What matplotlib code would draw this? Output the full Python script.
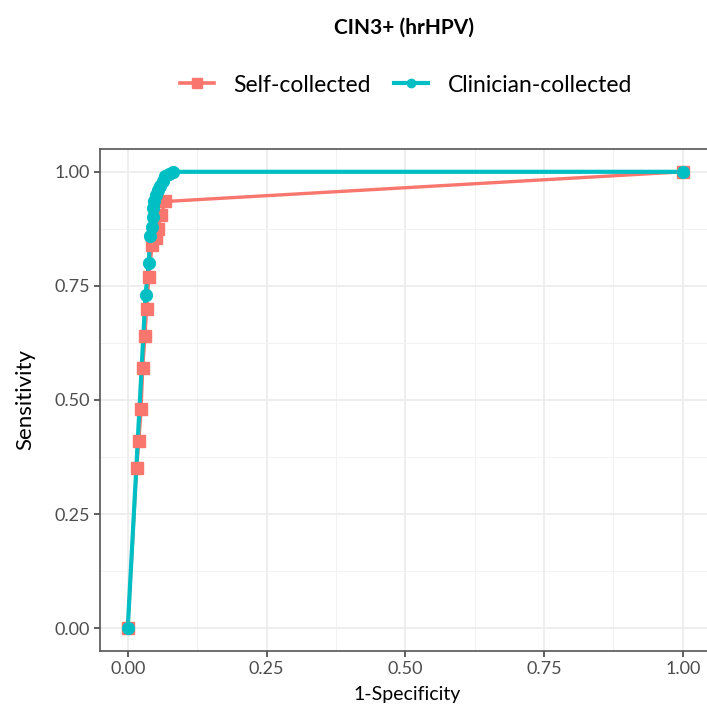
import matplotlib
matplotlib.use("Agg")
import matplotlib.pyplot as plt
from matplotlib.ticker import MultipleLocator

plt.rcParams.update({
    'font.family': ['Lato', 'DejaVu Sans'],
    'font.size': 12,
})

# ROC points
self_fpr = [0.0, 0.016, 0.020, 0.024, 0.027, 0.031, 0.034, 0.038, 0.044, 0.050,
            0.054, 0.060, 0.068, 1.0]
self_tpr = [0.0, 0.35, 0.41, 0.48, 0.57, 0.64, 0.70, 0.77, 0.84, 0.855,
            0.875, 0.905, 0.935, 1.0]

clin_fpr = [0.0, 0.032, 0.038, 0.040, 0.043, 0.045, 0.046, 0.048, 0.051, 0.054,
            0.058, 0.063, 0.068, 0.074, 0.081, 1.0]
clin_tpr = [0.0, 0.73, 0.80, 0.86, 0.88, 0.90, 0.92, 0.935, 0.95, 0.96,
            0.97, 0.98, 0.99, 0.995, 1.0, 1.0]

series_names = ["Self-collected", "Clinician-collected"]
ticks = [0.0, 0.25, 0.5, 0.75, 1.0]
tick_labels = ["0.00", "0.25", "0.50", "0.75", "1.00"]

red = "#F8766D"
teal = "#00BFC4"

W, H = 707, 713
fig = plt.figure(figsize=(W / 100, H / 100), dpi=100)
# the panel runs past the right edge of the picture, as in the reference
ax = fig.add_axes([100 / W, 62 / H, 615 / W, 502 / H])
ax.set_xlim(-0.05, -0.05 + 1.1 * 615 / 610.5)
ax.set_ylim(-0.05, 1.05)

# lines first, then points (ggplot layer order)
ax.plot(self_fpr, self_tpr, color=red, lw=2.4, zorder=3)
ax.plot(clin_fpr, clin_tpr, color=teal, lw=3.0, zorder=3)
ax.plot(self_fpr, self_tpr, ls='none', marker='s', ms=9, color=red, mec=red, zorder=4)
ax.plot(clin_fpr, clin_tpr, ls='none', marker='o', ms=8.5, color=teal, mec=teal, zorder=5)

ax.set_xticks(ticks)
ax.set_xticklabels(tick_labels)
ax.set_yticks(ticks)
ax.set_yticklabels(tick_labels)
ax.xaxis.set_minor_locator(MultipleLocator(0.125))
ax.yaxis.set_minor_locator(MultipleLocator(0.125))
ax.grid(which='major', color='#EBEBEB', lw=1.2, zorder=0)
ax.grid(which='minor', color='#F2F2F2', lw=0.7, zorder=0)
ax.set_axisbelow(True)
ax.tick_params(which='major', length=4, width=1.1, color='#333333',
               labelsize=13, labelcolor='#4D4D4D', pad=3)
ax.tick_params(which='minor', length=0)
for s in ax.spines.values():
    s.set_color('#555555')
    s.set_linewidth(1.2)
ax.spines['right'].set_visible(False)

ax.set_xlabel("1-Specificity", fontsize=14, labelpad=7)
fig.text(25 / W, 1 - 400 / H, "Sensitivity", rotation=90, fontsize=16,
         ha='center', va='center')
fig.text(404 / W, 1 - 28 / H, "CIN3+ (hrHPV)", fontsize=15, fontweight='bold',
         ha='center', va='center')

h1, = plt.plot([], [], color=red, lw=2.6, marker='s', ms=7)
h2, = plt.plot([], [], color=teal, lw=3.0, marker='o', ms=6)
fig.legend([h1, h2], series_names, loc='center', ncol=2,
           bbox_to_anchor=(406 / W, 1 - 85 / H), frameon=False, fontsize=16.5,
           handlelength=1.5, columnspacing=1.0, handletextpad=0.85)

fig.savefig("out.png", dpi=100)
